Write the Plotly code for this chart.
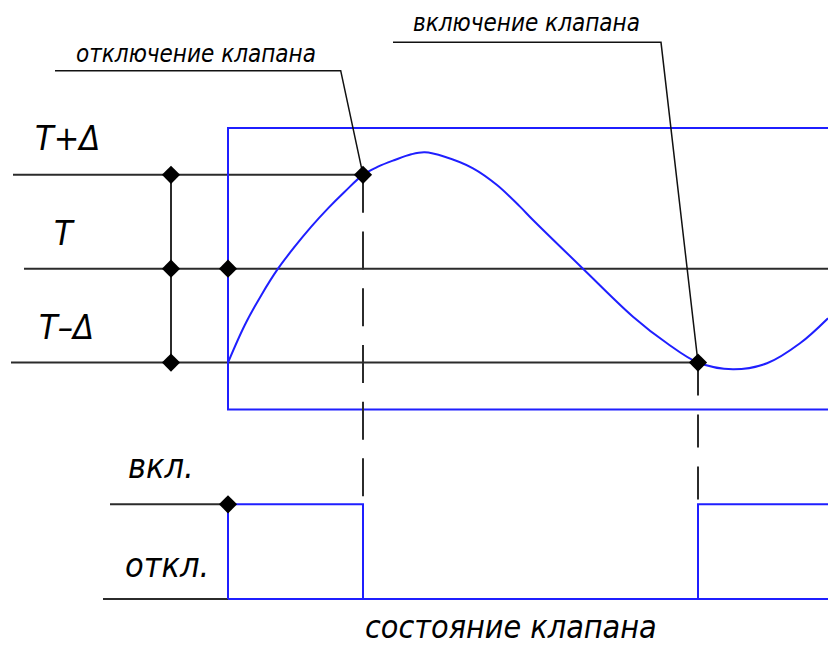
import plotly.graph_objects as go

# time axis (arbitrary units), valve switch moments
t_start = 0.0
t_off = 1.35
t_on = 4.70
t_end = 6.0

# temperature levels, in units of delta around the set point T
T_plus = 1.0
T_set = 0.0
T_minus = -1.0
box_top = 1.5
box_bottom = -1.5

# temperature curve
curve_t = [0.0, 0.167, 0.333, 0.50, 0.667, 0.833, 1.0, 1.167, 1.35, 1.50, 1.667, 1.833,
           1.967, 2.167, 2.45, 2.69, 2.92, 3.05, 3.55, 4.05, 4.39, 4.70, 5.05, 5.39, 5.72, 6.0]
curve_y = [-1.0, -0.602, -0.282, 0.0, 0.234, 0.448, 0.643, 0.820, 1.0, 1.087, 1.158, 1.219,
           1.24, 1.193, 1.07, 0.892, 0.661, 0.519, 0.0, -0.511, -0.795, -1.0, -1.072, -1.008,
           -0.795, -0.528]

# valve state
state_t = [t_start, t_start, t_off, t_on, t_end]
state_v = [0, 1, 0, 1, 1]
STATE_ON = 1
STATE_OFF = 0

labels_level = ["T+Δ", "T", "T–Δ"]
labels_state = ["вкл.", "откл."]

BLACK = "#2b2b2b"
BLUE = "#1f1fff"
FONT = "DejaVu Sans Condensed, Roboto, sans-serif"

# axis ranges (both y axes share the whole figure height)
x_range = [-2.28, 6.0]
y_range = [-4.031, 2.863]
y2_range = [-0.507, 6.325]


def state_to_temp(s):
    f = (s - y2_range[0]) / (y2_range[1] - y2_range[0])
    return y_range[0] + f * (y_range[1] - y_range[0])


fig = go.Figure()


def seg(xs, ys, color=BLACK, width=2, dash=None, yaxis="y"):
    fig.add_trace(go.Scatter(x=xs, y=ys, mode="lines", yaxis=yaxis, hoverinfo="skip",
                             line=dict(color=color, width=width, dash=dash)))


# level lines
seg([-2.15, t_off], [T_plus, T_plus])
seg([-2.04, t_end], [T_set, T_set])
seg([-2.17, t_on], [T_minus, T_minus])
seg([-0.57, -0.57], [T_minus, T_plus])

# blue frame
seg([t_end, t_start, t_start, t_end], [box_top, box_top, box_bottom, box_bottom], color=BLUE)

# dashed projections down to the valve diagram
seg([t_off, t_off], [T_plus, state_to_temp(STATE_ON)], dash="38px,18.7px")
seg([t_on, t_on], [T_minus, state_to_temp(STATE_ON)], dash="33px,19px")

# leader lines
seg([-1.73, 1.127, t_off], [2.11, 2.11, T_plus], width=1.5, color="#111")
seg([1.65, 4.33, t_on], [2.412, 2.412, T_minus], width=1.5, color="#111")

# temperature curve
fig.add_trace(go.Scatter(x=curve_t, y=curve_y, mode="lines", hoverinfo="skip",
                         line=dict(color=BLUE, width=2, shape="spline", smoothing=1.0)))

# valve diagram
seg([-1.18, t_start], [STATE_ON, STATE_ON], yaxis="y2")
seg([-1.25, t_start], [STATE_OFF, STATE_OFF], yaxis="y2")
seg([t_start, t_end], [STATE_OFF, STATE_OFF], color=BLUE, yaxis="y2")
fig.add_trace(go.Scatter(x=state_t, y=state_v, mode="lines", yaxis="y2", hoverinfo="skip",
                         line=dict(color=BLUE, width=2, shape="hv")))

# nodes
fig.add_trace(go.Scatter(
    x=[-0.57, -0.57, -0.57, t_start, t_off, t_on],
    y=[T_plus, T_set, T_minus, T_set, T_plus, T_minus],
    mode="markers", hoverinfo="skip",
    marker=dict(symbol="diamond", size=14, color="black")))
fig.add_trace(go.Scatter(
    x=[t_start], y=[STATE_ON], yaxis="y2", mode="markers", hoverinfo="skip",
    marker=dict(symbol="diamond", size=14, color="black")))

# texts
txt = dict(showarrow=False, xanchor="center", yanchor="middle")
for lab, yv, xv in zip(labels_level, [1.393, 0.38, -0.62], [-1.61, -1.64, -1.62]):
    fig.add_annotation(x=xv, y=yv, text=lab, font=dict(family=FONT, size=34, color="black", style="italic"), **txt)
fig.add_annotation(x=-0.32, y=2.29, text="отключение клапана",
                   font=dict(family=FONT, size=24, color="black", style="italic"), **txt)
fig.add_annotation(x=2.98, y=2.62, text="включение клапана",
                   font=dict(family=FONT, size=24, color="black", style="italic"), **txt)
fig.add_annotation(x=-0.67, y=1.40, yref="y2", text=labels_state[0],
                   font=dict(family=FONT, size=34, color="black", style="italic"), **txt)
fig.add_annotation(x=-0.61, y=0.36, yref="y2", text=labels_state[1],
                   font=dict(family=FONT, size=34, color="black", style="italic"), **txt)
fig.add_annotation(x=2.83, y=0, yref="paper", yanchor="bottom", xanchor="center",
                   showarrow=False, text="состояние клапана", borderpad=0,
                   font=dict(family=FONT, size=32, color="black", style="italic"))

fig.update_layout(
    width=828, height=647,
    margin=dict(l=0, r=0, t=0, b=0),
    showlegend=False,
    plot_bgcolor="white", paper_bgcolor="white",
    xaxis=dict(range=x_range, visible=False, fixedrange=True),
    yaxis=dict(range=y_range, visible=False, fixedrange=True),
    yaxis2=dict(range=y2_range, visible=False, overlaying="y", fixedrange=True),
)

# drop the default page margin so the figure fills the window exactly
fig.write_html("out.html", config={"displayModeBar": False},
               post_script="document.body.style.margin='0';")
